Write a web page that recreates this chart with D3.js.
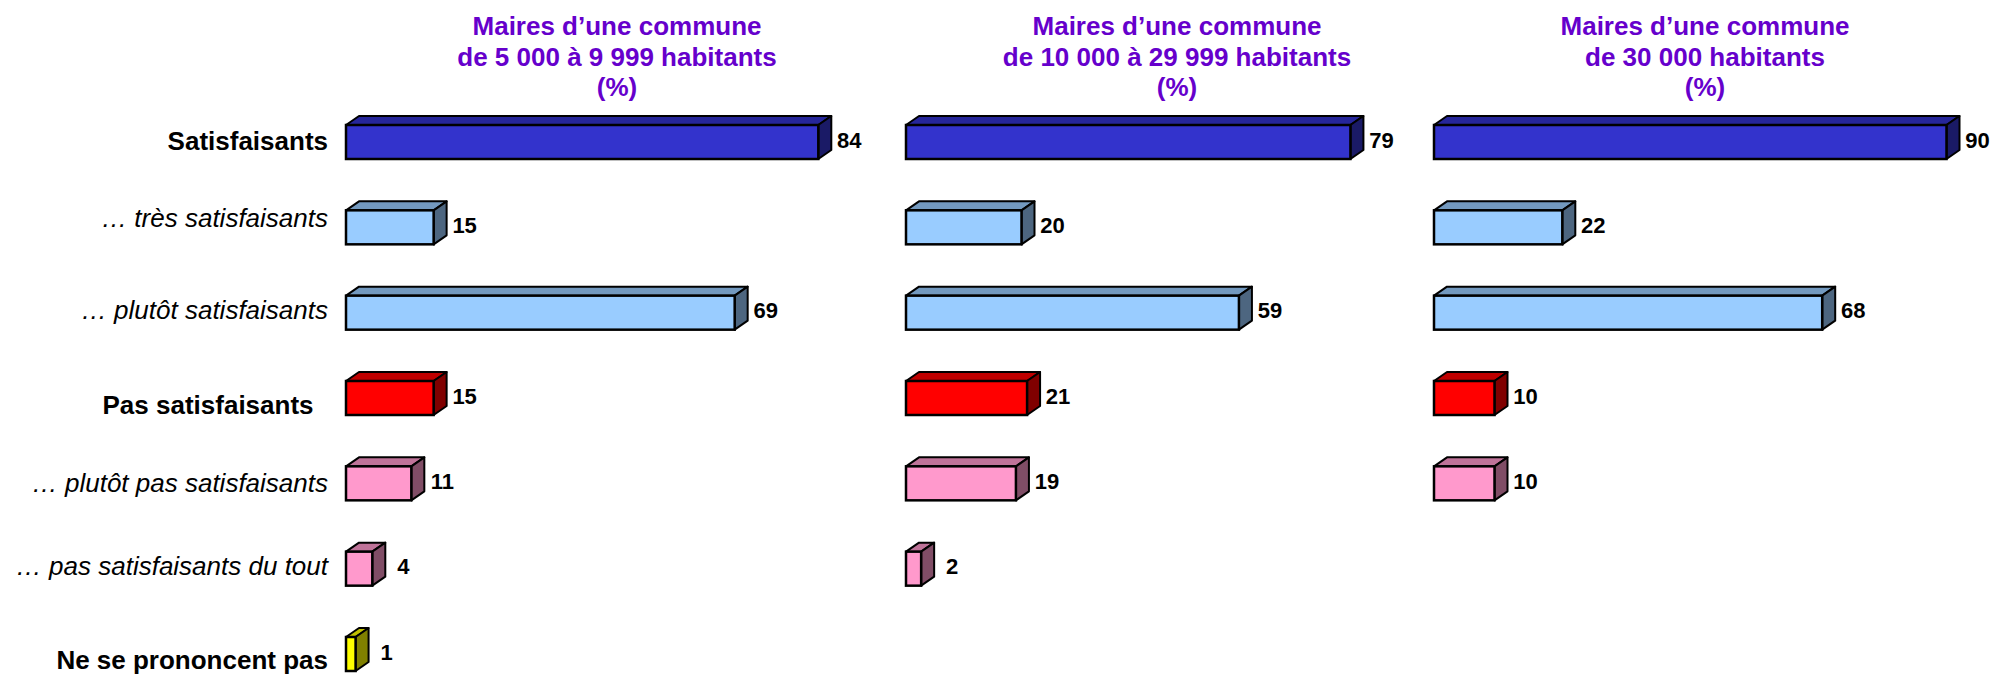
<!DOCTYPE html>
<html lang="fr">
<head>
<meta charset="utf-8">
<script src="https://d3js.org/d3.v7.min.js"></script>
<style>
  html, body { margin: 0; padding: 0; background: #fff; }
  svg text { font-family: "Liberation Sans", Arial, sans-serif; }
</style>
</head>
<body>
<svg width="1991" height="678"></svg>
<script>
// data
var categories = ["Satisfaisants", "\u2026 tr\u00e8s satisfaisants", "\u2026 plut\u00f4t satisfaisants",
  "Pas satisfaisants  ", "\u2026 plut\u00f4t pas satisfaisants", "\u2026 pas satisfaisants du tout",
  "Ne se prononcent pas"];
var titles5k = ["Maires d\u2019une commune", "de 5 000 \u00e0 9 999 habitants", "(%)"];
var titles10k = ["Maires d\u2019une commune", "de 10 000 \u00e0 29 999 habitants", "(%)"];
var titles30k = ["Maires d\u2019une commune", "de 30 000 habitants", "(%)"];
var values5k = [84, 15, 69, 15, 11, 4, 1];
var values10k = [79, 20, 59, 21, 19, 2, null];
var values30k = [90, 22, 68, 10, 10, null, null];

// look
var bold = [true, false, false, true, false, false, true];
var labelNudge = [16, 8, 14, 24, 17, 14, 23]; // label centre below bar front top, as in the slide
var palette = {
  blue:  ["#3333CC", "#26269A", "#1A1A66"],
  light: ["#99CCFF", "#7399BF", "#4D6680"],
  red:   ["#FF0000", "#BF0000", "#800000"],
  pink:  ["#FF99CC", "#BF7399", "#804D66"],
  yellow:["#FFFF00", "#BFBF00", "#808000"]
};
var colorOf = ["blue", "light", "light", "red", "pink", "pink", "yellow"];

var svg = d3.select("svg");
var barH = 34, dx = 13, dy = 9;

var y = d3.scalePoint().domain(d3.range(categories.length)).range([125, 637]);

var panels = [
  {left: 346, k: 557.5, titles: titles5k, values: values5k},
  {left: 906, k: 557.5, titles: titles10k, values: values10k},
  {left: 1434, k: 565, titles: titles30k, values: values30k}
];

// category labels
svg.append("g").selectAll("text")
  .data(categories)
  .enter().append("text")
  .attr("x", 328)
  .attr("y", function(d, i) { return y(i) + labelNudge[i]; })
  .attr("dy", "0.35em")
  .attr("text-anchor", "end")
  .style("white-space", "pre")
  .attr("font-size", 26)
  .attr("font-weight", function(d, i) { return bold[i] ? "bold" : "normal"; })
  .attr("font-style", function(d, i) { return bold[i] ? "normal" : "italic"; })
  .attr("fill", "#000")
  .text(function(d) { return d; });

panels.forEach(function(p) {
  var x = d3.scaleLinear().domain([0, 100]).range([0, p.k]);
  var g = svg.append("g");

  g.selectAll("text.title")
    .data(p.titles)
    .enter().append("text")
    .attr("class", "title")
    .attr("x", p.left + 271)
    .attr("y", function(d, i) { return 35 + i * 30.5; })
    .attr("text-anchor", "middle")
    .attr("font-size", 26)
    .attr("font-weight", "bold")
    .attr("fill", "#6600CC")
    .text(function(d) { return d; });

  var rows = p.values.map(function(v, i) { return {v: v, i: i}; })
    .filter(function(d) { return d.v !== null; });

  var bar = g.selectAll("g.bar")
    .data(rows)
    .enter().append("g")
    .attr("class", "bar");

  function geom(d) {
    var x0 = p.left, x1 = p.left + x(d.v) + 4, t = y(d.i), b = t + barH;
    return {x0: x0, x1: x1, t: t, b: b};
  }

  // top face
  bar.append("path")
    .attr("d", function(d) {
      var q = geom(d);
      return "M" + q.x0 + "," + q.t + "L" + (q.x0 + dx) + "," + (q.t - dy) +
        "L" + (q.x1 + dx) + "," + (q.t - dy) + "L" + q.x1 + "," + q.t + "Z";
    })
    .attr("fill", function(d) { return palette[colorOf[d.i]][1]; })
    .attr("stroke", "#000").attr("stroke-width", 2).attr("stroke-linejoin", "round");

  // side face
  bar.append("path")
    .attr("d", function(d) {
      var q = geom(d);
      return "M" + q.x1 + "," + q.t + "L" + (q.x1 + dx) + "," + (q.t - dy) +
        "L" + (q.x1 + dx) + "," + (q.b - dy) + "L" + q.x1 + "," + q.b + "Z";
    })
    .attr("fill", function(d) { return palette[colorOf[d.i]][2]; })
    .attr("stroke", "#000").attr("stroke-width", 2).attr("stroke-linejoin", "round");

  // front face
  bar.append("rect")
    .attr("x", function(d) { return geom(d).x0; })
    .attr("y", function(d) { return geom(d).t; })
    .attr("width", function(d) { var q = geom(d); return q.x1 - q.x0; })
    .attr("height", barH)
    .attr("fill", function(d) { return palette[colorOf[d.i]][0]; })
    .attr("stroke", "#000").attr("stroke-width", 2.5);

  // value labels
  bar.append("text")
    .attr("x", function(d) { return geom(d).x1 + dx + 18; })
    .attr("y", function(d) { return y(d.i) + barH / 2 - 2; })
    .attr("dy", "0.35em")
    .attr("text-anchor", "middle")
    .attr("font-size", 22)
    .attr("font-weight", "bold")
    .attr("fill", "#000")
    .text(function(d) { return d.v; });
});
</script>
</body>
</html>
